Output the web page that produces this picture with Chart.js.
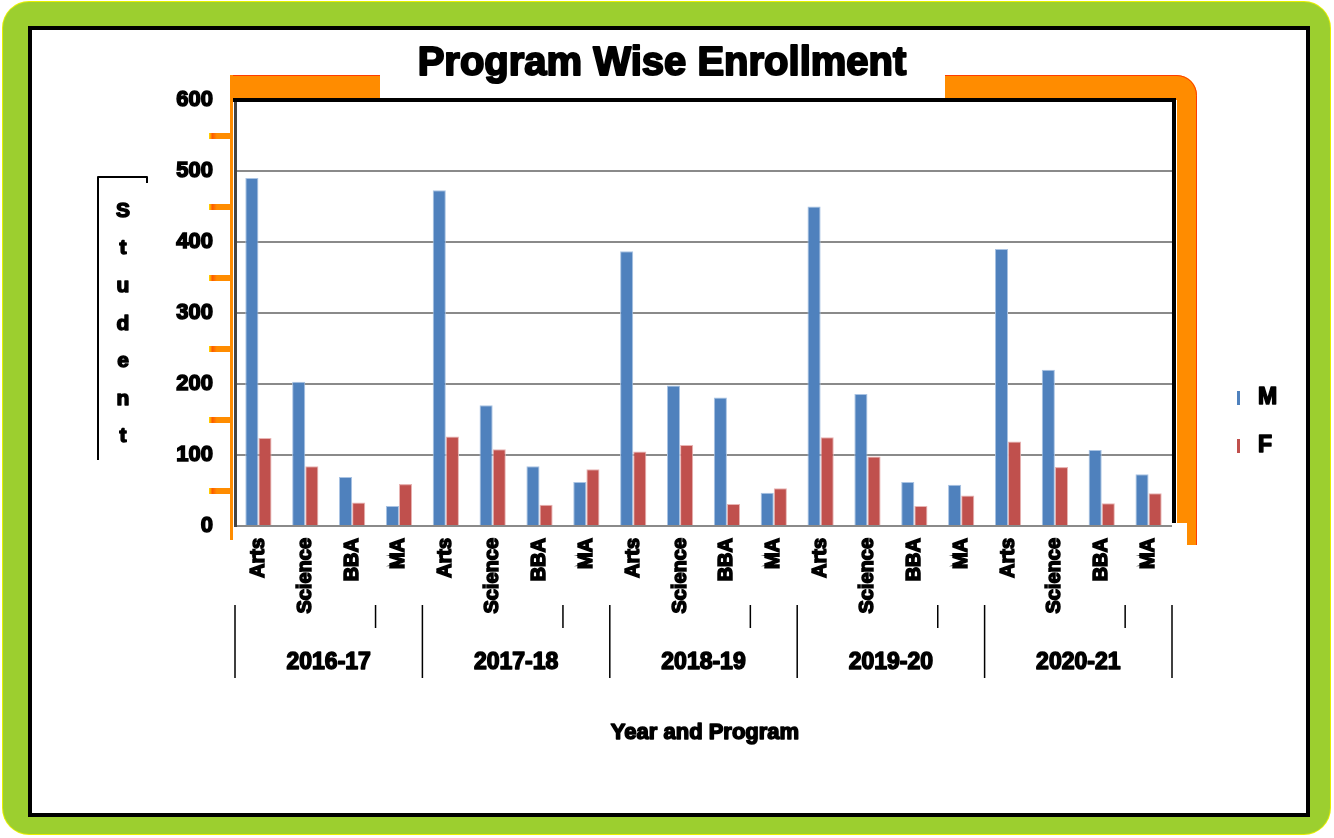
<!DOCTYPE html>
<html>
<head>
<meta charset="utf-8">
<title>Program Wise Enrollment</title>
<script src="https://cdn.jsdelivr.net/npm/chart.js@4.4.1/dist/chart.umd.min.js"></script>
<style>
  html, body { margin: 0; padding: 0; background: #fff; }
  #page { position: relative; width: 1334px; height: 838px; overflow: hidden; background: #fff; }
  #green { position: absolute; left: 3px; top: 2px; width: 1327px; height: 832px; background: #9ccf2f; border-radius: 26px; box-shadow: 0 0 0 1px #e8f000; }
  #frame { position: absolute; left: 28px; top: 26px; width: 1274px; height: 783px; border: 4px solid #000; background: #fff; }
  #chart { position: absolute; left: 0; top: 0; }
</style>
</head>
<body>
<div id="page">
  <div id="green"></div>
  <div id="frame"></div>
  <canvas id="chart" width="1334" height="838"></canvas>
</div>
<script>
// data
const programs = ['Arts', 'Science', 'BBA', 'MA'];
const years = ['2016-17', '2017-18', '2018-19', '2019-20', '2020-21'];
const categories = years.flatMap(() => programs);
const maleCounts = [490, 203, 69, 28, 473, 170, 84, 62, 387, 198, 181, 47, 450, 186, 62, 58, 390, 220, 107, 73];
const femaleCounts = [124, 84, 33, 59, 126, 108, 30, 80, 105, 114, 31, 53, 125, 98, 28, 43, 119, 83, 32, 46];
const seriesNames = ['M', 'F'];
const seriesColors = ['#4f81bd', '#c0504d'];
const chartTitle = 'Program Wise Enrollment';
const yAxisTitle = 'Student';
const xAxisTitle = 'Year and Program';
const yAxisMax = 600;
const yStep = 100;

const ORANGE = '#ff8c00';
const FAMILY = '"Liberation Sans", Arial, sans-serif';
const boldFont = (size) => ({ family: FAMILY, size: size, weight: 'bold' });

// heavy text: fill plus a thin stroke, like the blurred bold labels of the original
function heavyText(ctx, text, x, y, size, stroke) {
    ctx.font = 'bold ' + size + 'px ' + FAMILY;
    ctx.lineWidth = stroke;
    ctx.lineJoin = 'round';
    ctx.strokeStyle = '#000';
    ctx.fillStyle = '#000';
    ctx.strokeText(text, x, y);
    ctx.fillText(text, x, y);
}

const framePlugin = {
    id: 'frame',
    beforeDraw(chart) {
        const ctx = chart.ctx;
        const a = chart.chartArea;
        ctx.save();
        // orange top bar + right bar with rounded corner
        ctx.fillStyle = ORANGE;
        ctx.beginPath();
        ctx.moveTo(a.left - 5, 75);
        ctx.lineTo(a.right + 5, 75);
        ctx.arcTo(a.right + 25, 75, a.right + 25, 95, 20);
        ctx.lineTo(a.right + 25, a.bottom + 19);
        ctx.lineTo(a.right + 15, a.bottom + 19);
        ctx.lineTo(a.right + 15, a.bottom - 3);
        ctx.lineTo(a.right + 5, a.bottom - 3);
        ctx.lineTo(a.right + 5, a.top);
        ctx.lineTo(a.left - 5, a.top);
        ctx.closePath();
        ctx.fill();
        ctx.strokeStyle = '#ff3c00';
        ctx.lineWidth = 1;
        ctx.beginPath();
        ctx.moveTo(a.left - 5, 75.5);
        ctx.lineTo(a.right + 5, 75.5);
        ctx.arcTo(a.right + 24.5, 75.5, a.right + 24.5, 95, 20);
        ctx.lineTo(a.right + 24.5, a.bottom + 19);
        ctx.stroke();
        // thin orange line along the y axis
        ctx.fillStyle = ORANGE;
        ctx.fillRect(a.left - 5, 75, 3, a.bottom - 75 + 14);
        // white patch behind the title
        ctx.fillStyle = '#fff';
        ctx.fillRect(380, 38, 565, 62);
        ctx.restore();
    },
    afterDraw(chart) {
        const ctx = chart.ctx;
        const a = chart.chartArea;
        const x = chart.scales.x;
        const y = chart.scales.y;
        ctx.save();
        // black inner edge of the orange frame
        ctx.fillStyle = '#000';
        ctx.fillRect(a.left - 2, a.top - 2, a.right - a.left + 6, 4);
        ctx.fillRect(a.right, a.top - 2, 4, a.bottom - a.top - 1);

        // orange minor ticks between gridlines
        for (let v = yStep / 2; v < yAxisMax; v += yStep) {
            const py = Math.round(y.getPixelForValue(v));
            const g = ctx.createLinearGradient(a.left - 26, 0, a.left - 4, 0);
            g.addColorStop(0, '#ffe000');
            g.addColorStop(0.15, '#ff5a00');
            g.addColorStop(0.35, ORANGE);
            g.addColorStop(1, ORANGE);
            ctx.fillStyle = g;
            ctx.fillRect(a.left - 26, py - 3, 22, 6);
        }

        ctx.textAlign = 'center';
        ctx.textBaseline = 'middle';

        // title
        heavyText(ctx, chartTitle, 662, 64, 40, 2);

        // year labels and group separators
        const half = (x.getPixelForValue(1) - x.getPixelForValue(0)) / 2;
        years.forEach((yr, g) => {
            const first = x.getPixelForValue(g * programs.length);
            const last = x.getPixelForValue(g * programs.length + programs.length - 1);
            ctx.strokeStyle = '#000';
            ctx.lineWidth = 1.5;
            ctx.beginPath();
            ctx.moveTo(first - half, 605);
            ctx.lineTo(first - half, 678);
            ctx.moveTo(last - half, 605);
            ctx.lineTo(last - half, 628);
            ctx.stroke();
            heavyText(ctx, yr, (first + last) / 2, 663, 23, 1.5);
        });
        const end = x.getPixelForValue(categories.length - 1) + half;
        ctx.lineWidth = 1.5;
        ctx.beginPath();
        ctx.moveTo(end, 605);
        ctx.lineTo(end, 678);
        ctx.stroke();

        // x-axis title
        heavyText(ctx, xAxisTitle, 705, 733, 22, 1.5);

        // y-axis title, stacked letters with bracket
        ctx.lineWidth = 2;
        ctx.beginPath();
        ctx.moveTo(98, 460);
        ctx.lineTo(98, 177);
        ctx.lineTo(147, 177);
        ctx.lineTo(147, 183);
        ctx.stroke();
        yAxisTitle.split('').forEach((ch, i) => heavyText(ctx, ch, 123, 211 + i * 37.6, 21, 1.5));

        // legend
        ctx.textAlign = 'left';
        seriesNames.forEach((name, i) => {
            const ly = 398 + i * 48;
            ctx.fillStyle = seriesColors[i];
            ctx.fillRect(1237, ly - 7, 3, 14);
            heavyText(ctx, name, 1258, ly, 23, 1.5);
        });
        ctx.restore();
    }
};

new Chart(document.getElementById('chart'), {
    type: 'bar',
    data: {
        labels: categories,
        datasets: [
            { label: seriesNames[0], data: maleCounts, backgroundColor: seriesColors[0], borderColor: '#a9c3e3', borderWidth: 1 },
            { label: seriesNames[1], data: femaleCounts, backgroundColor: seriesColors[1], borderColor: '#e8b4b3', borderWidth: 1 }
        ]
    },
    options: {
        responsive: false,
        animation: false,
        devicePixelRatio: 1,
        layout: { padding: { left: 153, right: 162, top: 100, bottom: 0 } },
        datasets: { bar: { categoryPercentage: 0.56, barPercentage: 1.0 } },
        plugins: {
            legend: { display: false },
            tooltip: { enabled: false },
            title: { display: false }
        },
        scales: {
            x: {
                grid: { display: false },
                border: { display: false },
                ticks: {
                    color: '#000', font: boldFont(20), minRotation: 90, maxRotation: 90,
                    autoSkip: false, padding: 4, textStrokeColor: '#000', textStrokeWidth: 1.5
                },
                afterFit: (scale) => { scale.height = 312; }
            },
            y: {
                min: 0,
                max: yAxisMax,
                ticks: { stepSize: yStep, color: '#000', font: boldFont(22), padding: 22, textStrokeColor: '#000', textStrokeWidth: 1.5 },
                grid: { color: '#8a8a8a', lineWidth: 2, drawTicks: false },
                border: { color: '#444', width: 3 },
                afterFit: (scale) => { scale.width = 82; }
            }
        }
    },
    plugins: [framePlugin]
});
</script>
</body>
</html>
